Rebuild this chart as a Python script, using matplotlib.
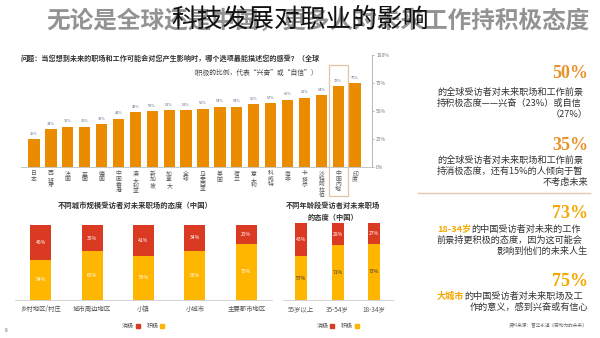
import matplotlib.pyplot as plt
from matplotlib.patches import Rectangle
from matplotlib.lines import Line2D

plt.rcParams['font.family'] = ['Noto Sans CJK SC', 'DejaVu Sans']

# top chart: share of positive answers by market
markets = ["日本", "西班牙", "法国", "英国", "德国", "中国香港", "澳大利亚", "新加坡", "加拿大",
           "全球", "马来西亚", "美国", "荷兰", "意大利", "科威特", "南非", "卡塔尔", "沙特阿拉伯",
           "中国内地", "印度"]
positive = [25, 34, 36, 36, 38, 43, 49, 50, 51, 51, 52, 54, 54, 56, 57, 60, 62, 64, 72, 75]
y_ticks = [0, 25, 50, 75, 100]

# bottom charts (China)
city_types = ["乡村地区/村庄", "城市周边地区", "小镇", "小城市", "主要都市地区"]
city_pos = [54, 65, 59, 66, 75]
city_neg = [46, 35, 41, 34, 25]
age_groups = ["55岁以上", "35-54岁", "18-34岁"]
age_pos = [57, 71, 73]
age_neg = [43, 29, 27]

ORANGE = "#EB8C00"
YELLOW = "#FFB600"
RED = "#DB3A22"
GOLD = "#F2A900"

W, H = 600, 338
fig = plt.figure(figsize=(6, 3.38), dpi=100)


def fx(x):
    return x / W


def fy(y):
    return 1 - y / H


# header
fig.text(fx(590), fy(21), "无论是全球还是中国，更多人对未来工作持积极态度", ha="right", va="center",
         fontsize=17, fontweight="bold", color="#939393")
fig.text(fx(300), fy(20), "科技发展对职业的影响", ha="center", va="center",
         fontsize=18.5, fontweight="light", color="#111111")

# ---- top bar chart ----
ax1 = fig.add_axes([fx(20.5), fy(167), fx(351.5), 112 / H])
x = list(range(len(markets)))
ax1.bar(x, positive, width=0.67, color=ORANGE, zorder=2)
for i, v in enumerate(positive):
    ax1.text(i, v + 3, f"{v}%", ha="center", va="bottom", fontsize=2.8, color="#5a6a8a")
for i, name in enumerate(markets):
    ax1.text(i, -4, "\n".join(name.replace("/", "")), ha="center", va="top",
             fontsize=4.2, color="#555555", linespacing=1.05, clip_on=False)
ax1.set_xlim(-0.8, 20.0)
ax1.set_ylim(0, 100)
ax1.yaxis.tick_right()
ax1.set_yticks(y_ticks)
ax1.set_yticklabels([f"{t}%" for t in y_ticks], fontsize=3.5, color="#777777")
ax1.tick_params(axis="y", length=1.5, width=0.5, color="#999999", pad=1.5)
ax1.set_xticks([])
for s in ["top", "left"]:
    ax1.spines[s].set_visible(False)
ax1.spines["right"].set_color("#aaaaaa")
ax1.spines["right"].set_linewidth(0.6)
ax1.spines["bottom"].set_color("#bbbbbb")
ax1.spines["bottom"].set_linewidth(0.6)
ax1.patch.set_alpha(0)
hi = markets.index("中国内地")
ax1.add_patch(Rectangle((hi - 0.56, -26), 1.12, 117, fill=False, edgecolor="#E3C2A6",
                        linewidth=0.9, clip_on=False, zorder=3))

fig.text(fx(320), fy(58), "问题：当您想到未来的职场和工作可能会对您产生影响时，哪个选项最能描述您的感受？（全球",
         ha="right", va="center", fontsize=5.1, fontweight="bold", color="#333333")
fig.text(fx(318), fy(73), "（积极的比例，代表“兴奋”或“自信”）", ha="right", va="center",
         fontsize=4.9, color="#444444")


def stacked(ax, labels, pos, neg, width, pos_txt):
    xs = list(range(len(labels)))
    ax.bar(xs, pos, width=width, color=YELLOW, zorder=2)
    ax.bar(xs, neg, bottom=pos, width=width, color=RED, zorder=2)
    for i in xs:
        ax.text(i, pos[i] / 2, f"{pos[i]}%", ha="center", va="center", fontsize=3.6, color=pos_txt)
        ax.text(i, pos[i] + neg[i] / 2, f"{neg[i]}%", ha="center", va="center", fontsize=3.6,
                color="white")
        ax.text(i, -7, labels[i], ha="center", va="top", fontsize=4.6, color="#555555",
                clip_on=False)
    ax.set_ylim(0, 100)
    ax.set_xlim(-0.5, len(labels) - 0.5)
    ax.set_xticks([])
    ax.set_yticks([])
    for s in ["top", "left", "right"]:
        ax.spines[s].set_visible(False)
    ax.spines["bottom"].set_color("#cccccc")
    ax.spines["bottom"].set_linewidth(0.6)
    ax.patch.set_alpha(0)
    handles = [Line2D([], [], marker="s", ls="", color=RED, markersize=2.5),
               Line2D([], [], marker="s", ls="", color=YELLOW, markersize=2.5)]
    ax.legend(handles, ["消极", "积极"], loc="upper center", bbox_to_anchor=(0.5, -0.22), ncol=2,
              frameon=False, fontsize=4.4, markerfirst=False, handletextpad=0.2,
              columnspacing=1.0, handlelength=0.8, labelcolor="#555555")


# ---- bottom left: city size ----
ax2 = fig.add_axes([fx(15), fy(300), fx(257), 75 / H])
stacked(ax2, city_types, city_pos, city_neg, 0.41, "white")
fig.text(fx(135), fy(205), "不同城市规模受访者对未来职场的态度（中国）", ha="center", va="center",
         fontsize=5.3, fontweight="bold", color="#333333")

# ---- bottom middle: age ----
ax3 = fig.add_axes([fx(283), fy(300), fx(109.5), 77 / H])
stacked(ax3, age_groups, age_pos, age_neg, 0.33, "#333333")
fig.text(fx(333), fy(205), "不同年龄段受访者对未来职场", ha="center", va="center",
         fontsize=5.2, fontweight="bold", color="#333333")
fig.text(fx(333), fy(217), "的态度（中国）", ha="center", va="center",
         fontsize=5.2, fontweight="bold", color="#333333")

fig.text(fx(5), fy(331), "8", ha="left", va="center", fontsize=3.5, color="#666666")

# ---- right text panel ----
RX, LX = 588, 437
body = dict(fontsize=6.6, color="#333333", va="center")
big = dict(fontsize=13, fontweight="bold", family="Liberation Serif", va="center", ha="right")


def line(y, txt, prefix=None, right=False):
    if right:
        fig.text(fx(RX), fy(y), txt, ha="right", **body)
    elif prefix:
        t = fig.text(fx(LX), fy(y), prefix, ha="left", fontsize=6.6, color=GOLD,
                     fontweight="bold", va="center")
        fig.add_artist(plt.Annotation(txt, xy=(1, 0.5), xycoords=t, ha="left", **body))
    else:
        fig.text(fx(LX), fy(y), txt, ha="left", **body)


fig.text(fx(RX), fy(74), "50%", color="#E8932A", **big)
line(92, "的全球受访者对未来职场和工作前景")
line(103, "持积极态度——兴奋（23%）或自信")
line(115, "（27%）", right=True)

fig.text(fx(RX), fy(146), "35%", color="#E8932A", **big)
line(160, "的全球受访者对未来职场和工作前景")
line(171, "持消极态度，还有15%的人倾向于暂")
line(182, "不考虑未来", right=True)

fig.add_artist(Line2D([fx(418), fx(590)], [fy(193), fy(193)], color="#E6C9AE", lw=1))

fig.text(fx(RX), fy(214), "73%", color=GOLD, **big)
line(229, "的中国受访者对未来的工作", prefix="18-34岁")
line(240, "前景持更积极的态度，因为这可能会")
line(251, "影响到他们的未来人生", right=True)

fig.text(fx(RX), fy(281), "75%", color=GOLD, **big)
line(296, "的中国受访者对未来职场及工", prefix="大城市")
line(307, "作的意义，感到兴奋或有信心", right=True)

fig.text(fx(587), fy(326), "资料来源：普华永道《劳动力的未来》", ha="right", va="center",
         fontsize=3.3, color="#666666")

fig.savefig("out.png", dpi=100)
